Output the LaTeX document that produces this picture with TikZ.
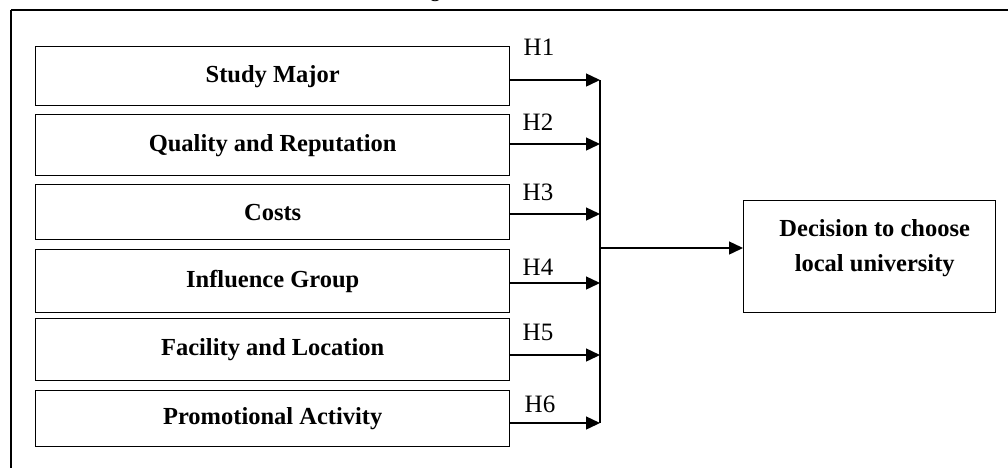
\documentclass[tikz,border=0pt]{standalone}
\usepackage{fontspec}
\setmainfont{Liberation Serif}
\usetikzlibrary{arrows.meta}
\begin{document}
\begin{tikzpicture}[x=1pt,y=1pt,
  line width=1.4pt,
  factor/.style={draw, rectangle, minimum width=474pt, anchor=north west,
    inner sep=0pt, font=\fontsize{24.5}{27}\selectfont\bfseries},
  hyp/.style={anchor=base, inner sep=0pt, font=\fontsize{25}{28}\selectfont},
  arr/.style={-{Triangle[length=14pt,width=13pt]}}]
\useasboundingbox (0,0) rectangle (1008,-467);
% outer frame (cut off at right and bottom)
\draw (11,-10) -- (1030,-10);
\draw (11,-10) -- (11,-480);
% title (cut off at top)
\node[anchor=base, inner sep=0pt, font=\fontsize{19}{22}\selectfont] (title) at (515,3) {\textbf{Figure 1.} Research Model};
% factor boxes
\node[factor, minimum height=59pt] (b1) at (35,-46) {Study Major};
\node[factor, minimum height=61pt] (b2) at (35,-114) {Quality and Reputation};
\node[factor, minimum height=55pt] (b3) at (35,-184) {Costs};
\node[factor, minimum height=63pt] (b4) at (35,-249) {Influence Group};
\node[factor, minimum height=62pt] (b5) at (35,-318) {Facility and Location};
\node[factor, minimum height=56pt] (b6) at (35,-390) {Promotional Activity};
% junction points
\coordinate (j1) at (600,-80);
\coordinate (j2) at (600,-144);
\coordinate (j3) at (600,-214);
\coordinate (j4) at (600,-283);
\coordinate (j5) at (600,-355);
\coordinate (j6) at (600,-423);
\coordinate (jo) at (600,-248);
% decision box
\node[draw, rectangle, anchor=north west, minimum width=252pt, minimum height=112pt, inner sep=0pt,
  label={[name=dectext, align=center, anchor=center, yshift=9pt, xshift=5pt, font=\fontsize{24.5}{35}\selectfont\bfseries]center:Decision to choose\\local university}]
  (dec) at (743,-200) {};
% arrows
\draw[arr] (b1.east |- j1) -- (j1);
\draw[arr] (b2.east |- j2) -- (j2);
\draw[arr] (b3.east |- j3) -- (j3);
\draw[arr] (b4.east |- j4) -- (j4);
\draw[arr] (b5.east |- j5) -- (j5);
\draw[arr] (b6.east |- j6) -- (j6);
\draw (j1) -- (j6);
\draw[arr] (jo) -- (dec.west |- jo);
% hypothesis labels
\node[hyp] (h1) at (539,-55) {H1};
\node[hyp] (h2) at (538,-130) {H2};
\node[hyp] (h3) at (538,-200) {H3};
\node[hyp] (h4) at (538,-275) {H4};
\node[hyp] (h5) at (538,-340) {H5};
\node[hyp] (h6) at (540,-412) {H6};
\end{tikzpicture}
\end{document}
